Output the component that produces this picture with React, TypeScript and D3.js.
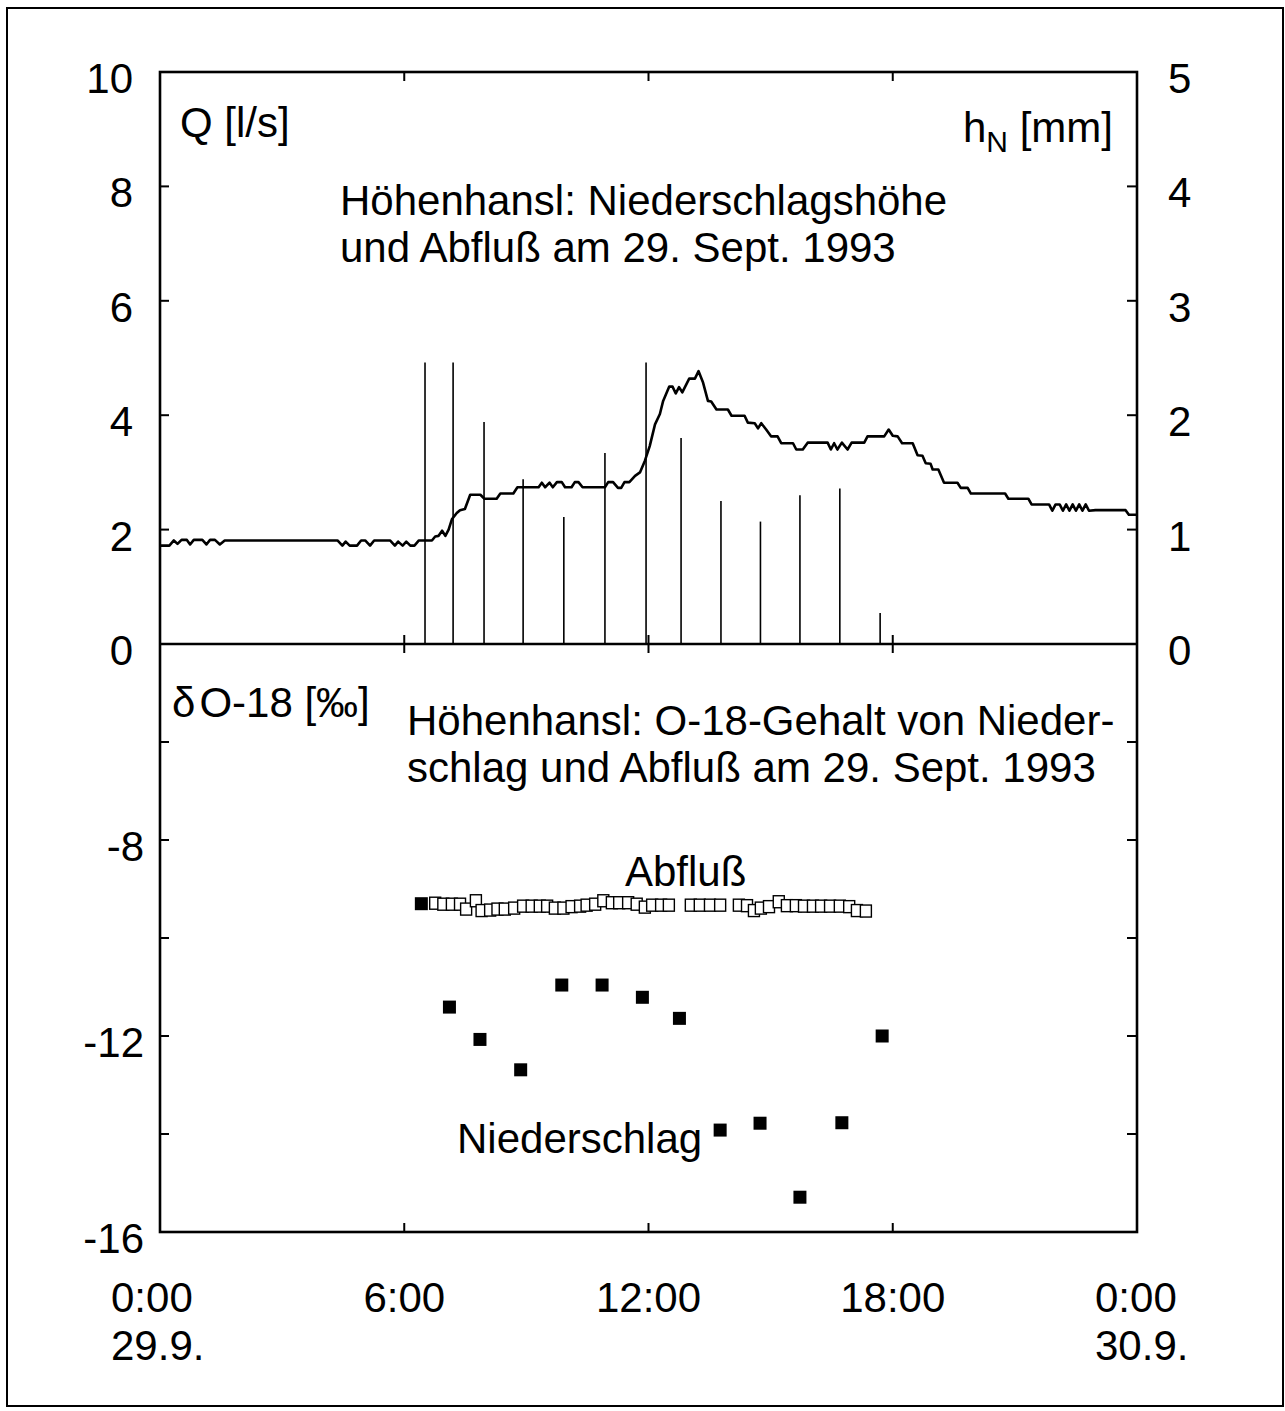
import React from "react";
import * as d3 from "d3";

// ---- data ----
// discharge Q [l/s] : [hour, value]
const qSeries: [number, number][] = [
  [0, 1.72], [0.23, 1.72], [0.34, 1.81], [0.43, 1.75], [0.53, 1.82], [0.66, 1.82], [0.74, 1.74], [0.83, 1.82],
  [1.04, 1.82], [1.14, 1.74], [1.23, 1.82], [1.35, 1.82], [1.47, 1.74], [1.59, 1.81], [4.36, 1.81], [4.48, 1.72],
  [4.56, 1.79], [4.66, 1.72], [4.84, 1.72], [4.94, 1.81], [5.04, 1.81], [5.16, 1.72], [5.26, 1.81], [5.65, 1.81],
  [5.77, 1.72], [5.85, 1.79], [5.96, 1.72], [6.05, 1.79], [6.15, 1.72], [6.25, 1.72], [6.36, 1.81], [6.68, 1.81],
  [6.76, 1.88], [6.84, 1.89], [6.93, 1.98], [7.01, 1.89], [7.09, 2.0], [7.17, 2.18], [7.29, 2.29], [7.37, 2.34],
  [7.49, 2.36], [7.62, 2.61], [7.87, 2.61], [7.97, 2.54], [8.27, 2.54], [8.36, 2.63], [8.68, 2.63], [8.78, 2.74],
  [9.3, 2.74], [9.38, 2.82], [9.46, 2.74], [9.57, 2.82], [9.65, 2.74], [9.75, 2.83], [9.87, 2.83], [9.95, 2.74],
  [10.11, 2.74], [10.19, 2.83], [10.28, 2.83], [10.38, 2.74], [10.93, 2.74], [11.01, 2.83], [11.13, 2.83],
  [11.25, 2.73], [11.33, 2.73], [11.41, 2.83], [11.53, 2.83], [11.67, 2.94], [11.79, 3.0], [11.91, 3.2],
  [12.03, 3.46], [12.16, 3.84], [12.28, 4.02], [12.36, 4.25], [12.51, 4.5], [12.59, 4.5], [12.67, 4.38],
  [12.75, 4.49], [12.83, 4.4], [13.0, 4.64], [13.14, 4.64], [13.23, 4.77], [13.34, 4.57], [13.46, 4.25],
  [13.54, 4.24], [13.67, 4.1], [13.95, 4.1], [14.04, 3.99], [14.36, 3.99], [14.44, 3.87], [14.61, 3.86],
  [14.69, 3.77], [14.77, 3.86], [14.89, 3.75], [15.01, 3.63], [15.17, 3.63], [15.26, 3.51], [15.55, 3.51],
  [15.63, 3.4], [15.79, 3.4], [15.91, 3.52], [16.4, 3.52], [16.48, 3.4], [16.56, 3.51], [16.64, 3.4],
  [16.75, 3.52], [16.89, 3.4], [16.99, 3.52], [17.3, 3.52], [17.38, 3.63], [17.79, 3.63], [17.9, 3.75],
  [18.0, 3.64], [18.12, 3.63], [18.23, 3.51], [18.49, 3.51], [18.61, 3.3], [18.73, 3.29], [18.81, 3.16],
  [18.93, 3.15], [18.98, 3.05], [19.12, 3.05], [19.26, 2.82], [19.59, 2.82], [19.67, 2.73], [19.84, 2.73],
  [19.92, 2.63], [20.76, 2.63], [20.84, 2.54], [21.33, 2.54], [21.41, 2.44], [21.84, 2.44], [21.92, 2.33],
  [22.0, 2.44], [22.1, 2.44], [22.18, 2.33], [22.26, 2.44], [22.34, 2.33], [22.42, 2.44], [22.5, 2.33],
  [22.58, 2.44], [22.66, 2.33], [22.74, 2.44], [22.82, 2.33], [22.98, 2.34], [23.72, 2.34], [23.8, 2.26],
  [24, 2.26],
];

// precipitation depth h_N [mm]
const rainHours = [6.51, 7.2, 7.96, 8.92, 9.92, 10.93, 11.94, 12.8, 13.78, 14.75, 15.72, 16.7, 17.69];
const rainMm = [2.46, 2.46, 1.94, 1.44, 1.11, 1.67, 2.46, 1.8, 1.25, 1.07, 1.3, 1.36, 0.27];

// delta O-18 of precipitation (filled squares)
const precipHours = [6.42, 7.11, 7.86, 8.86, 9.87, 10.86, 11.85, 12.76, 13.76, 14.74, 15.72, 16.75, 17.74];
const precipD18 = [-9.3, -11.41, -12.07, -12.69, -10.96, -10.96, -11.21, -11.64, -13.92, -13.78, -15.29, -13.77, -12.0];

// delta O-18 of discharge (open squares)
const runoffHours = [
  6.76, 6.96, 7.17, 7.37, 7.52, 7.76, 7.9, 8.11, 8.29, 8.47, 8.7, 8.92, 9.13, 9.33, 9.51, 9.7, 9.91, 10.11,
  10.32, 10.48, 10.69, 10.89, 11.1, 11.28, 11.5, 11.71, 11.91, 12.09, 12.31, 12.5, 13.04, 13.26, 13.51, 13.76,
  14.22, 14.42, 14.59, 14.76, 14.96, 15.2, 15.4, 15.62, 15.82, 16.04, 16.24, 16.46, 16.7, 16.93, 17.12, 17.34,
];
const runoffD18 = [
  -9.29, -9.31, -9.31, -9.31, -9.41, -9.24, -9.44, -9.43, -9.41, -9.41, -9.39, -9.35, -9.35, -9.35, -9.35,
  -9.39, -9.39, -9.36, -9.35, -9.33, -9.31, -9.24, -9.28, -9.28, -9.28, -9.31, -9.37, -9.33, -9.33, -9.33,
  -9.33, -9.33, -9.33, -9.33, -9.33, -9.34, -9.44, -9.39, -9.36, -9.26, -9.34, -9.34, -9.35, -9.35, -9.35,
  -9.35, -9.35, -9.36, -9.44, -9.45,
];

const qTicks = [0, 2, 4, 6, 8, 10];
const hTicks = [0, 1, 2, 3, 4, 5];
const dTicks = [-6, -8, -10, -12, -14];
const dLabels = [-8, -12, -16];
const hourTicks = [6, 12, 18];
const timeLabels = [
  { h: 0, l1: "0:00", l2: "29.9.", anchor: "start" },
  { h: 6, l1: "6:00", l2: "", anchor: "middle" },
  { h: 12, l1: "12:00", l2: "", anchor: "middle" },
  { h: 18, l1: "18:00", l2: "", anchor: "middle" },
  { h: 24, l1: "0:00", l2: "30.9.", anchor: "start" },
];

const FONT = "'Liberation Sans', Arial, Helvetica, sans-serif";

export default function App() {
  const L = 160, R = 1137, T = 72, M = 644, B = 1232;
  const x = d3.scaleLinear().domain([0, 24]).range([L, R]);
  const yQ = d3.scaleLinear().domain([0, 10]).range([M, T]);
  const yH = d3.scaleLinear().domain([0, 5]).range([M, T]);
  const yD = d3.scaleLinear().domain([-16, -4]).range([B, M]);

  const qLine = d3.line<[number, number]>().x((d) => x(d[0])).y((d) => yQ(d[1]))(qSeries) || "";

  const fs = 42;
  const labelX = (h: number, anchor: string) => (anchor === "start" ? x(h) - 49 - (h === 24 ? -7 : 0) : x(h));

  return (
    <svg width={1285} height={1411} style={{ position: "absolute", left: 0, top: 0, background: "#fff" }}
      fontFamily={FONT} fontSize={fs} fill="#000">
      <rect x={0} y={0} width={1285} height={1411} fill="#fff" />
      {/* outer frame */}
      <rect x={7} y={8} width={1276} height={1398} fill="none" stroke="#000" strokeWidth={2} />

      {/* rain bars */}
      {rainHours.map((h, i) => (
        <line key={"r" + i} x1={x(h)} x2={x(h)} y1={yH(0)} y2={yH(rainMm[i])} stroke="#000" strokeWidth={1.6} />
      ))}

      {/* discharge line */}
      <path d={qLine} fill="none" stroke="#000" strokeWidth={2.6} strokeLinejoin="round" />

      {/* runoff open squares */}
      {runoffHours.map((h, i) => (
        <rect key={"o" + i} x={x(h) - 5.5} y={yD(runoffD18[i]) - 6} width={11} height={12}
          fill="#fff" stroke="#000" strokeWidth={1.4} />
      ))}
      {/* precipitation filled squares */}
      {precipHours.map((h, i) => (
        <rect key={"p" + i} x={x(h) - 6.5} y={yD(precipD18[i]) - 6.5} width={13} height={13} fill="#000" />
      ))}

      {/* plot frames */}
      <rect x={L} y={T} width={R - L} height={B - T} fill="none" stroke="#000" strokeWidth={2.6} />
      <line x1={L} x2={R} y1={M} y2={M} stroke="#000" strokeWidth={2.6} />

      {/* ticks */}
      {qTicks.slice(1, -1).map((v) => (
        <line key={"ql" + v} x1={L} x2={L + 9} y1={yQ(v)} y2={yQ(v)} stroke="#000" strokeWidth={2} />
      ))}
      {hTicks.slice(1, -1).map((v) => (
        <line key={"hr" + v} x1={R - 10} x2={R} y1={yH(v)} y2={yH(v)} stroke="#000" strokeWidth={2} />
      ))}
      {dTicks.map((v) => (
        <g key={"dt" + v}>
          <line x1={L} x2={L + 9} y1={yD(v)} y2={yD(v)} stroke="#000" strokeWidth={2} />
          <line x1={R - 10} x2={R} y1={yD(v)} y2={yD(v)} stroke="#000" strokeWidth={2} />
        </g>
      ))}
      {hourTicks.map((h) => (
        <g key={"xt" + h}>
          <line x1={x(h)} x2={x(h)} y1={T} y2={T + 9} stroke="#000" strokeWidth={2} />
          <line x1={x(h)} x2={x(h)} y1={M - 9} y2={M + 9} stroke="#000" strokeWidth={2} />
          <line x1={x(h)} x2={x(h)} y1={B - 9} y2={B} stroke="#000" strokeWidth={2} />
        </g>
      ))}

      {/* left tick labels */}
      {qTicks.map((v) => (
        <text key={"qlab" + v} x={133} y={yQ(v) + 21} textAnchor="end">{v}</text>
      ))}
      {dLabels.map((v) => (
        <text key={"dlab" + v} x={144} y={yD(v) + 21} textAnchor="end">{v}</text>
      ))}
      {/* right tick labels */}
      {hTicks.map((v) => (
        <text key={"hlab" + v} x={1168} y={yH(v) + 21}>{v}</text>
      ))}

      {/* time labels */}
      {timeLabels.map((t) => (
        <g key={"tl" + t.h}>
          <text x={labelX(t.h, t.anchor)} y={1312} textAnchor={t.anchor}>{t.l1}</text>
          {t.l2 && <text x={labelX(t.h, t.anchor)} y={1360} textAnchor={t.anchor}>{t.l2}</text>}
        </g>
      ))}

      {/* axis titles */}
      <text x={180} y={137}>Q [l/s]</text>
      <text x={1113} y={142} textAnchor="end">
        <tspan>h</tspan>
        <tspan fontSize={30} dy={10}>N</tspan>
        <tspan dy={-10}> [mm]</tspan>
      </text>
      <text x={172} y={717}>
        <tspan>δ</tspan>
        <tspan dx={4}>O-18 [‰]</tspan>
      </text>

      {/* panel titles */}
      <text x={340} y={215}>Höhenhansl: Niederschlagshöhe</text>
      <text x={340} y={262}>und Abfluß am 29. Sept. 1993</text>
      <text x={407} y={735}>Höhenhansl: O-18-Gehalt von Nieder-</text>
      <text x={407} y={782}>schlag und Abfluß am 29. Sept. 1993</text>

      {/* series labels */}
      <text x={625} y={886}>Abfluß</text>
      <text x={457} y={1153}>Niederschlag</text>
    </svg>
  );
}
